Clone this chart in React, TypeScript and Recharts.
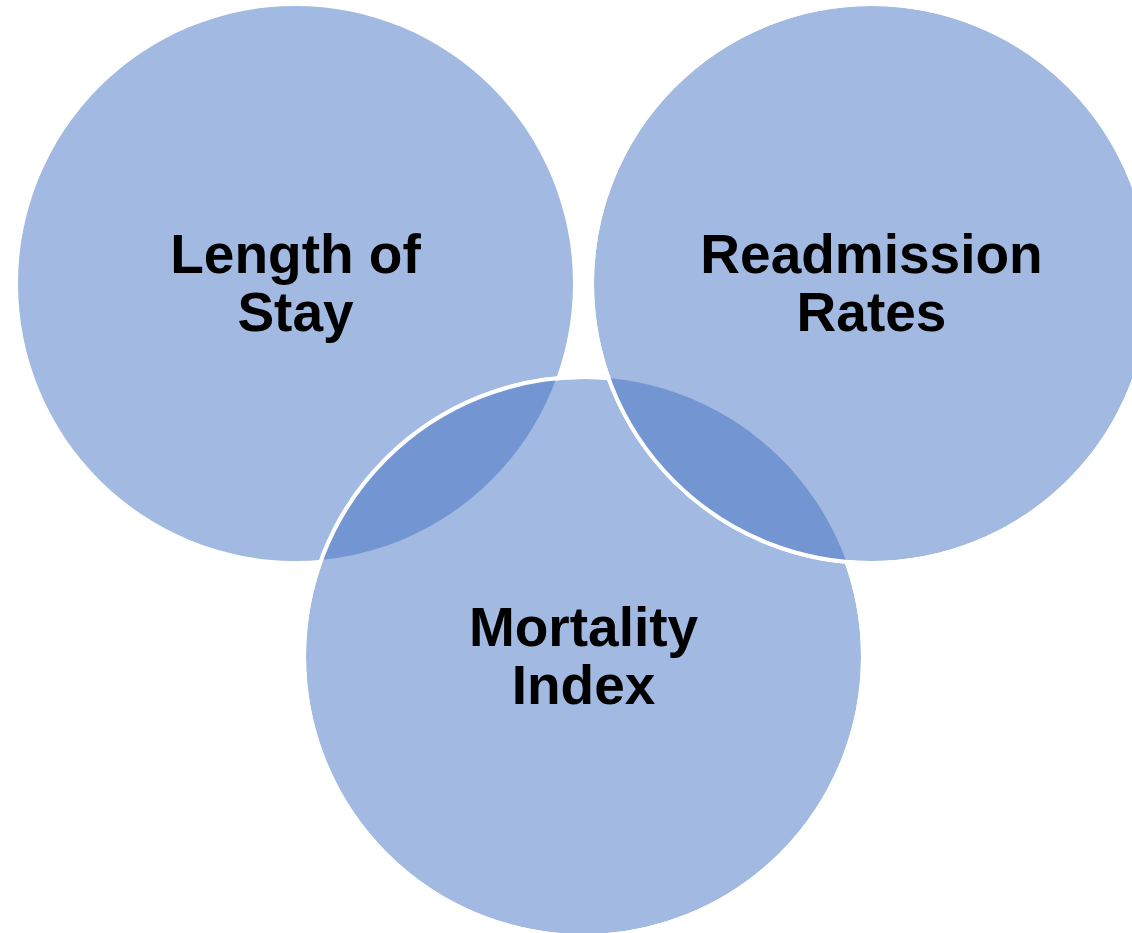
import React from "react"
import { ScatterChart, Scatter, XAxis, YAxis } from "recharts"

const W = 1132
const H = 933

// circles, in page units (x right, y down)
const categories = ["Length of Stay", "Readmission Rates", "Mortality Index"]
const centerX = [295.5, 871.5, 583.5]
const centerY = [283.5, 283.5, 656.5]
const radius = [277.5, 279.5, 279.5]
const labelLines = [
  ["Length of", "Stay"],
  ["Readmission", "Rates"],
  ["Mortality", "Index"],
]

// overlaps: [circle drawn dark, circle that clips it]
const overlaps = [
  [2, 0],
  [1, 2],
]

const LIGHT = "#A2B9E1"
const DARK = "#7395D1"
const OUTLINE = "#FFFFFF"

const pts = categories.map((name, i) => ({
  name,
  idx: i,
  x: centerX[i],
  y: centerY[i],
  r: radius[i],
  lines: labelLines[i],
}))

const pxPerUnit = W / W

const baseCircles = [pts[0], pts[2]]
const rightCircle = [pts[1]]
const leftLens = [{ ...pts[overlaps[0][0]], clip: overlaps[0][1] }]
const rightLens = [{ ...pts[overlaps[1][0]], clip: overlaps[1][1] }]

const BaseShape = (props: any) => {
  const { cx, cy, payload } = props
  const r = payload.r * pxPerUnit
  const outlined = payload.idx !== 0
  return (
    <circle
      cx={cx}
      cy={cy}
      r={r}
      fill={LIGHT}
      stroke={outlined ? OUTLINE : "none"}
      strokeWidth={4}
    />
  )
}

const LensShape = (props: any) => {
  const { cx, cy, payload } = props
  const r = payload.r * pxPerUnit
  const other = pts[payload.clip]
  const ocx = cx + (other.x - payload.x) * pxPerUnit
  const ocy = cy + (other.y - payload.y) * pxPerUnit
  const id = `lens-${payload.idx}-${payload.clip}`
  return (
    <g>
      <defs>
        <clipPath id={id}>
          <circle cx={ocx} cy={ocy} r={other.r * pxPerUnit} />
        </clipPath>
      </defs>
      <circle cx={cx} cy={cy} r={r} fill={DARK} clipPath={`url(#${id})`} />
      <circle cx={cx} cy={cy} r={r} fill="none" stroke={OUTLINE} strokeWidth={4} />
    </g>
  )
}

const LabelShape = (props: any) => {
  const { cx, cy, payload } = props
  return (
    <text
      textAnchor="middle"
      fontFamily="'Liberation Sans', Arial, sans-serif"
      fontWeight="bold"
      fontSize={55}
      fill="#000"
    >
      {payload.lines.map((line: string, i: number) => (
        <tspan key={line} x={cx} y={cy - 11 + i * 58.5}>
          {line}
        </tspan>
      ))}
    </text>
  )
}

export default function App() {
  return (
    <div style={{ position: "absolute", left: 0, top: 0, width: W, height: H, background: "#fff" }}>
      <ScatterChart width={W} height={H} margin={{ top: 0, right: 0, bottom: 0, left: 0 }}>
        <XAxis type="number" dataKey="x" domain={[0, W]} hide />
        <YAxis type="number" dataKey="y" domain={[0, H]} reversed hide />
        <Scatter data={baseCircles} shape={BaseShape} isAnimationActive={false} />
        <Scatter data={leftLens} shape={LensShape} isAnimationActive={false} />
        <Scatter data={rightCircle} shape={BaseShape} isAnimationActive={false} />
        <Scatter data={rightLens} shape={LensShape} isAnimationActive={false} />
        <Scatter data={pts} shape={LabelShape} isAnimationActive={false} />
      </ScatterChart>
    </div>
  )
}
